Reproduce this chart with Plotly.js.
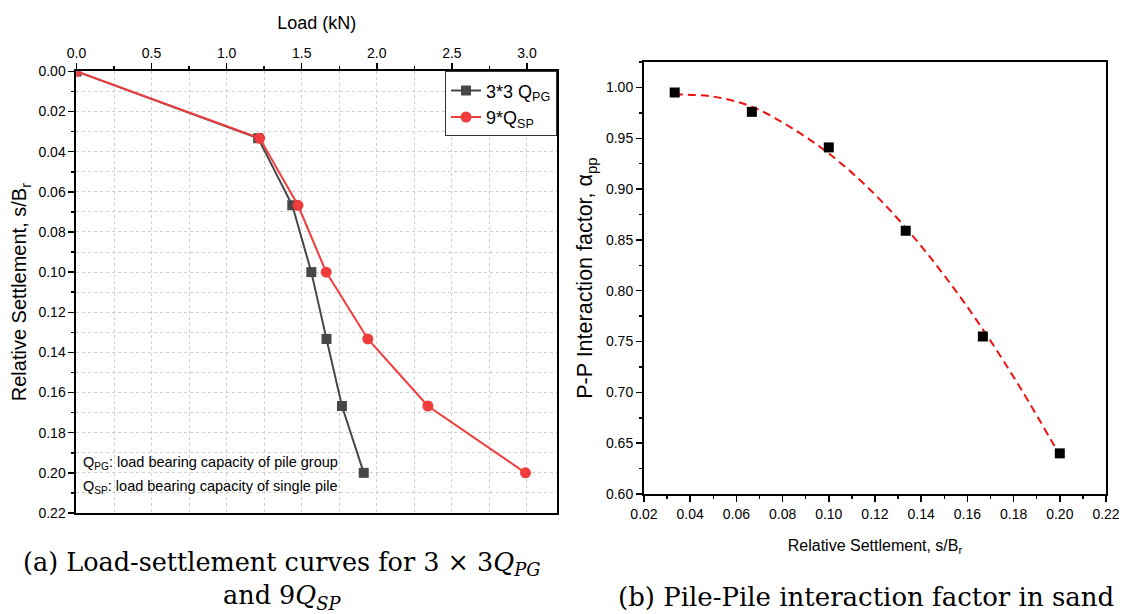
<!DOCTYPE html>
<html>
<head>
<meta charset="utf-8">
<script src="https://cdn.plot.ly/plotly-3.0.1.min.js"></script>
<style>
  html, body { margin: 0; padding: 0; background: #ffffff; }
  #chart { width: 1128px; height: 614px; }
</style>
</head>
<body>
<div id="chart"></div>
<script>
// ---- Data ----
// (a) Load-settlement curves
const relSettlementA = [0, 0.0333, 0.0667, 0.1, 0.1333, 0.1667, 0.2];
const loadGroupPG = [0, 1.21, 1.437, 1.564, 1.665, 1.768, 1.913];
const loadSinglePile9 = [0, 1.22, 1.475, 1.663, 1.94, 2.34, 2.99];
const seriesNames = ["3*3 Q<sub>PG</sub>", "9*Q<sub>SP</sub>"];

// (b) Pile-pile interaction factor
const relSettlementB = [0.0333, 0.0667, 0.1, 0.1333, 0.1667, 0.2];
const alphaPP = [0.995, 0.976, 0.941, 0.859, 0.755, 0.640];
// dashed fitted curve
const fitX = [0.0333, 0.05, 0.0667, 0.0833, 0.1, 0.1167, 0.1333, 0.15, 0.1667, 0.1833, 0.2];
const fitY = [0.993, 0.991, 0.981, 0.961, 0.935, 0.902, 0.862, 0.815, 0.762, 0.703, 0.638];

// ---- Styling ----
const FONT = "Liberation Sans, Arial, sans-serif";
const SERIF = "DejaVu Serif, Liberation Serif, serif";
const GRAY = "#474747";
const RED = "#f03c3c";
const GRID = "#cfcfcf";

const traces = [
  {
    x: loadGroupPG, y: relSettlementA, xaxis: "x", yaxis: "y",
    type: "scatter", mode: "lines+markers", name: seriesNames[0],
    line: { color: GRAY, width: 2 },
    marker: { symbol: "square", size: 10, color: GRAY }
  },
  {
    x: loadSinglePile9, y: relSettlementA, xaxis: "x", yaxis: "y",
    type: "scatter", mode: "lines+markers", name: seriesNames[1],
    line: { color: RED, width: 2 },
    marker: { symbol: "circle", size: 11, color: RED }
  },
  {
    x: fitX, y: fitY, xaxis: "x2", yaxis: "y2",
    type: "scatter", mode: "lines", showlegend: false,
    line: { color: "#ee1111", width: 2, dash: "8px,5px", shape: "spline" }
  },
  {
    x: relSettlementB, y: alphaPP, xaxis: "x2", yaxis: "y2",
    type: "scatter", mode: "markers", showlegend: false,
    marker: { symbol: "square", size: 10, color: "#000000" }
  }
];

const axisCommon = {
  showline: true, linecolor: "#000", linewidth: 2, mirror: true,
  ticks: "outside", ticklen: 6, tickwidth: 1.5, tickcolor: "#000",
  zeroline: false, automargin: false,
  tickfont: { family: FONT, size: 14, color: "#000" }
};

const layout = {
  width: 1128, height: 614,
  margin: { l: 0, r: 0, t: 0, b: 0 },
  paper_bgcolor: "#ffffff", plot_bgcolor: "#ffffff",
  font: { family: FONT, color: "#000" },
  showlegend: true,
  legend: {
    x: 0.4938, xanchor: "right", y: 0.8837, yanchor: "top",
    bgcolor: "#ffffff", bordercolor: "#333", borderwidth: 1,
    font: { family: FONT, size: 18, color: "#000" },
    tracegroupgap: 0
  },
  xaxis: Object.assign({}, axisCommon, {
    domain: [0.0678, 0.4938], anchor: "y", side: "top",
    range: [0, 3.2], tick0: 0, dtick: 0.5, tickformat: ".1f",
    showgrid: true, gridcolor: GRID, griddash: "dot", gridwidth: 1,
    minor: { dtick: 0.25, ticks: "outside", ticklen: 3, tickcolor: "#000",
             showgrid: true, gridcolor: GRID, griddash: "dot", gridwidth: 1 },
    title: { text: "Load (kN)", font: { family: FONT, size: 18 }, standoff: 11 }
  }),
  yaxis: Object.assign({}, axisCommon, {
    domain: [0.1645, 0.8837], anchor: "x",
    range: [0.22, 0], tick0: 0, dtick: 0.02, tickformat: ".2f",
    showgrid: true, gridcolor: GRID, griddash: "dot", gridwidth: 1,
    minor: { dtick: 0.01, ticks: "outside", ticklen: 3, tickcolor: "#000",
             showgrid: true, gridcolor: GRID, griddash: "dot", gridwidth: 1 },
    title: { text: "Relative Settlement, s/B<sub>r</sub>", font: { family: FONT, size: 20 }, standoff: 6 }
  }),
  xaxis2: Object.assign({}, axisCommon, {
    domain: [0.5709, 0.9805], anchor: "y2",
    range: [0.02, 0.22], tick0: 0.02, dtick: 0.02, tickformat: ".2f",
    showgrid: false,
    minor: { dtick: 0.01, ticks: "outside", ticklen: 3, tickcolor: "#000" },
    title: { text: "Relative Settlement, s/B<sub>r</sub>", font: { family: FONT, size: 16 }, standoff: 19 }
  }),
  yaxis2: Object.assign({}, axisCommon, {
    domain: [0.1954, 0.899], anchor: "x2",
    range: [0.6, 1.025], tick0: 0.6, dtick: 0.05, tickformat: ".2f",
    showgrid: false,
    minor: { dtick: 0.025, ticks: "outside", ticklen: 3, tickcolor: "#000" },
    title: { text: "P-P Interaction factor, α<sub>pp</sub>", font: { family: FONT, size: 21.5 }, standoff: 7 }
  }),
  annotations: [
    {
      xref: "paper", yref: "paper", x: 0.0715, y: 1 - 463 / 614,
      xanchor: "left", yanchor: "middle", showarrow: false,
      text: "Q<sub>PG</sub>: load bearing capacity of pile group",
      font: { family: FONT, size: 14.5, color: "#000" }
    },
    {
      xref: "paper", yref: "paper", x: 0.0715, y: 1 - 487 / 614,
      xanchor: "left", yanchor: "middle", showarrow: false,
      text: "Q<sub>SP</sub>: load bearing capacity of single pile",
      font: { family: FONT, size: 14.5, color: "#000" }
    },
    {
      xref: "paper", yref: "paper", x: 281 / 1128, y: 1 - 580 / 614,
      xanchor: "center", yanchor: "middle", showarrow: false, align: "center",
      text: "(a) Load-settlement curves for 3 × 3<i>Q</i><sub><i>PG</i></sub><br>and 9<i>Q</i><sub><i>SP</i></sub>",
      font: { family: SERIF, size: 25.5, color: "#000" }
    },
    {
      xref: "paper", yref: "paper", x: 866 / 1128, y: 1 - 597 / 614,
      xanchor: "center", yanchor: "middle", showarrow: false,
      text: "(b) Pile-Pile interaction factor in sand",
      font: { family: SERIF, size: 26, color: "#000" }
    }
  ]
};

Plotly.newPlot("chart", traces, layout, { displayModeBar: false, staticPlot: true });
</script>
</body>
</html>
